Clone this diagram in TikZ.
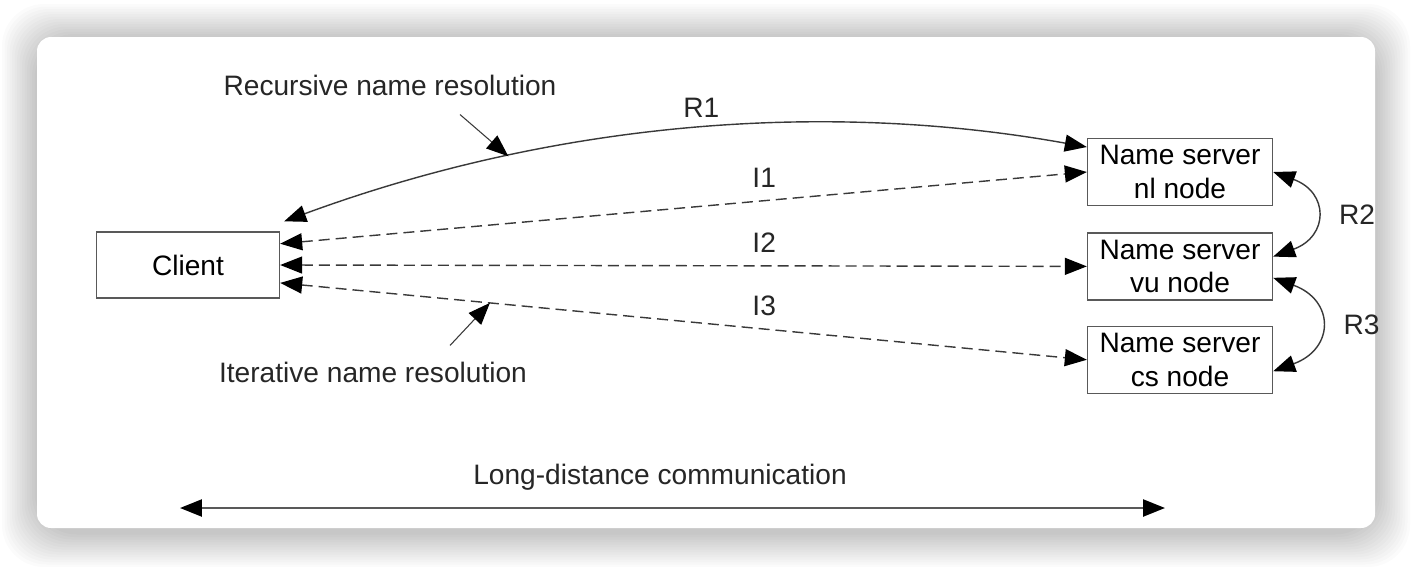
\documentclass[tikz,border=0pt]{standalone}
\usepackage{fontspec}
\setmainfont{Liberation Sans}
\usetikzlibrary{arrows.meta,
calc,
positioning}

\tikzset{
  server/.style={draw=gray!70!black, line width=0.8pt, minimum width=3.7cm,
    minimum height=1.34cm, inner sep=0pt, align=center, font=\fontsize{16}{19}\selectfont},
  tip/.style={-{Triangle[length=0.44cm,width=0.34cm,color=black]}},
  twotip/.style={{Triangle[length=0.44cm,width=0.34cm,color=black]}-{Triangle[length=0.44cm,width=0.34cm,color=black]}},
  link/.style={draw=gray!45!black, line width=0.8pt},
  iter/.style={link, dash pattern=on 0.22cm off 0.12cm},
  lbl/.style={font=\fontsize{16}{19}\selectfont, text=black!85}
}

\begin{document}
\begin{tikzpicture}[x=0.02cm, y=0.02cm]
	% page and card
	\fill[white] (0,0) rectangle (1412,566);
	\useasboundingbox (0,0) rectangle (1412,566);
	\foreach \i in {1,...,14}
		\fill[black, opacity=0.016, rounded corners=24] (37-2.5*\i,34-2.5*\i) rectangle (1375+2.5*\i,527+2.5*\i);
	\fill[white, rounded corners=8] (37,38) rectangle (1375,529);

	% boxes
	\node [server, minimum width=3.66cm, minimum height=1.32cm] (client) at (188,301) {Client};
	\node [server] (nl) at (1180,394) {Name server\\nl node};
	\node [server, below=0.52cm of nl] (vu) {Name server\\vu node};
	\node [server, below=0.5cm of vu] (cs) {Name server\\cs node};

	% recursive
	\draw[link, twotip] ([shift={(4,10)}]client.north east)
		.. controls +(266,98) and +(-267,48) .. (nl.165)
		coordinate[pos=0.28] (rhit)
		node[lbl, pos=0.52, above=2pt] {R1};
	\draw[link, twotip] (nl.east) to[bend left=70, looseness=1.8]
		node[lbl, right=10pt] {R2} (vu.6);
	\draw[link, twotip] (vu.-7) to[bend left=70, looseness=1.8]
		node[lbl, right=10pt] {R3} (cs.-7);

	% iterative
	\draw[iter, twotip] (client.13.5) -- node[lbl, pos=0.6, above=4pt] {I1} (nl.west);
	\draw[iter, twotip] (client.east) -- node[lbl, pos=0.6, above=4pt] {I2} (vu.west);
	\draw[iter, twotip] (client.-11) -- node[lbl, pos=0.6, above=4pt] {I3}
		coordinate[pos=0.26] (ihit) (cs.west);

	% annotations
	\node [lbl] (recur) at (390,481) {Recursive name resolution};
	\node [lbl] (iterl) at (373,194) {Iterative name resolution};
	\draw[link, line width=0.6pt, tip] ($(recur.south)+(70,-13)$) -- (rhit);
	\draw[link, line width=0.6pt, tip] ($(iterl.north)+(77,10)$) -- (ihit);

	% long distance
	\coordinate (ldl) at (180,58);
	\coordinate (ldr) at (1165,58);
	\draw[link, draw=gray!70!black, line width=1.4pt, twotip] (ldl) -- node[lbl, above=6pt, xshift=-0.25cm] {Long-distance communication} (ldr);
\end{tikzpicture}
\end{document}
